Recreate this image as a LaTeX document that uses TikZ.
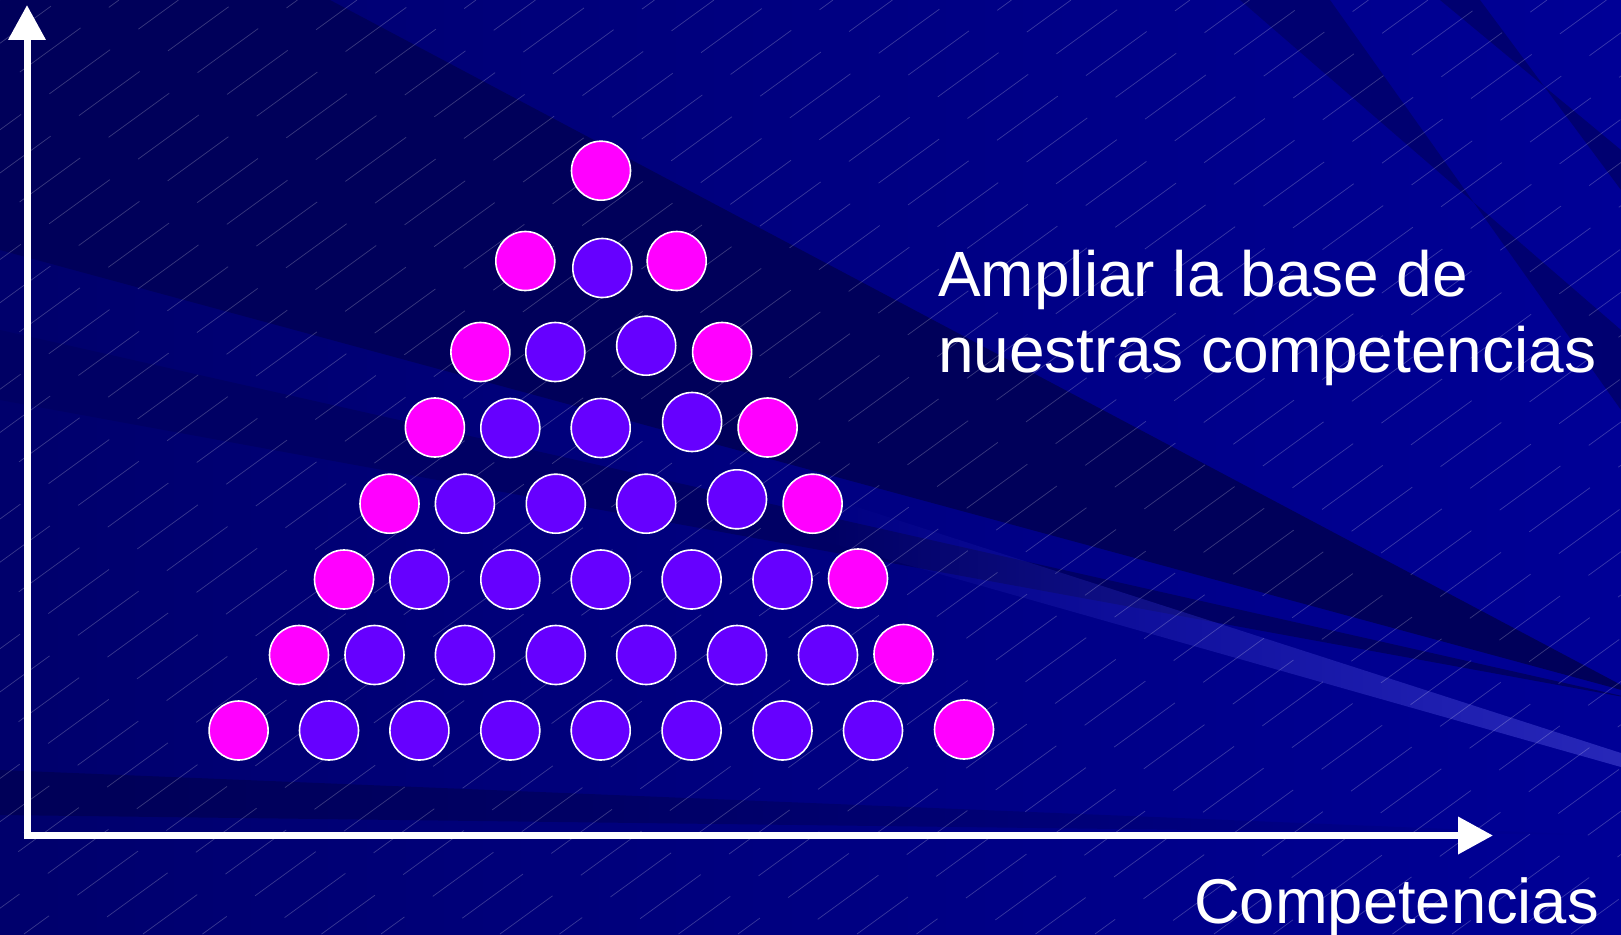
\documentclass[tikz,border=0pt]{standalone}
\usepackage{fontspec}
\setmainfont{Liberation Sans}
\usetikzlibrary{arrows.meta,fadings}
\definecolor{bgL}{RGB}{0,0,108}
\definecolor{bgR}{RGB}{0,0,150}
\definecolor{darkA}{RGB}{0,0,90}
\definecolor{darkB}{RGB}{0,0,100}
\definecolor{darkC}{RGB}{0,0,88}
\definecolor{bandR}{RGB}{0,0,112}
\definecolor{rayL}{RGB}{40,40,185}
\definecolor{pinkc}{RGB}{255,0,255}
\definecolor{violc}{RGB}{102,0,255}
\tikzset{
  ball/.style={circle, minimum size=59pt, inner sep=0pt, draw=white, line width=1.6pt},
  pk/.style={ball, fill=pinkc},
  vi/.style={ball, fill=violc},
  axisline/.style={draw=white, line width=7pt, -{Triangle[length=35pt,width=36pt]}},
  hatch/.style={white, opacity=0.22, line width=0.7pt, dash pattern=on 75pt off 35pt},
  lbl/.style={text=white, font=\fontsize{64}{76.5}\selectfont, inner sep=0pt}
}
\begin{document}
\begin{tikzpicture}[x=1pt,y=-1pt]
\useasboundingbox (0,0) rectangle (1621,934);
\begin{scope}
  \clip (0,0) rectangle (1621,934);
  \shade[left color=bgL, right color=bgR] (0,0) rectangle (1621,934);
  \fill[darkA] (0,0) -- (330,0) -- (1640,695) -- (0,250) -- cycle;
  \fill[darkB] (0,330) -- (1640,700) -- (0,400) -- cycle;
  \fill[bandR] (1240,0) -- (1330,0) -- (1621,410) -- (1621,330) -- cycle;
  \fill[bandR] (1440,0) -- (1480,0) -- (1621,190) -- (1621,150) -- cycle;
  \fill[rayL, path fading=west] (820,495) -- (1621,753) -- (1621,767) -- (820,540) -- cycle;
  \fill[darkC, path fading=east] (0,770) -- (1600,835) -- (0,815) -- cycle;
  \foreach \i in {0,...,50} {
    \draw[hatch, dash phase={mod(\i*37,110)}] ({-1285+\i*59.5},934) -- ({\i*59.5},0);
  }
\end{scope}

% axes
\coordinate (origin) at (27,835.5);
\coordinate (ytip) at (27,5);
\coordinate (xtip) at (1493,835.5);
\coordinate (ystart) at (27,839);
\coordinate (xstart) at (23.5,835.5);
\draw[axisline] (ystart) -- (ytip);
\draw[axisline] (xstart) -- (xtip);

% row 1
\node[pk] (a1) at (601,170.7) {};
% row 2
\node[pk] (b1) at (525.3,261) {};
\node[vi] (b2) at (602.3,268) {};
\node[pk] (b3) at (676.7,261) {};
% row 3
\node[pk] (c1) at (480.4,352) {};
\node[vi] (c2) at (555.3,352) {};
\node[vi] (c3) at (646.2,345.7) {};
\node[pk] (c4) at (722.1,352) {};
% row 4
\node[pk] (d1) at (434.9,427.5) {};
\node[vi] (d2) at (510.3,428) {};
\node[vi] (d3) at (600.7,428) {};
\node[vi] (d4) at (692.1,422) {};
\node[pk] (d5) at (767.6,427.5) {};
% row 5
\node[pk] (e1) at (389.5,503.7) {};
\node[vi] (e2) at (464.9,503.7) {};
\node[vi] (e3) at (555.8,503.7) {};
\node[vi] (e4) at (646.2,503.7) {};
\node[vi] (e5) at (737,499.3) {};
\node[pk] (e6) at (812.6,503.7) {};
% row 6
\node[pk] (f1) at (344,579.5) {};
\node[vi] (f2) at (419.4,579.5) {};
\node[vi] (f3) at (510.3,579.5) {};
\node[vi] (f4) at (600.7,579.5) {};
\node[vi] (f5) at (691.6,579.5) {};
\node[vi] (f6) at (782.5,579.5) {};
\node[pk] (f7) at (858,578.5) {};
% row 7
\node[pk] (g1) at (299,655) {};
\node[vi] (g2) at (374.5,655) {};
\node[vi] (g3) at (464.9,655) {};
\node[vi] (g4) at (555.8,655) {};
\node[vi] (g5) at (646.2,655) {};
\node[vi] (g6) at (737,655) {};
\node[vi] (g7) at (828,655) {};
\node[pk] (g8) at (903.5,654) {};
% row 8
\node[pk] (h1) at (238.6,730.5) {};
\node[vi] (h2) at (329,730.5) {};
\node[vi] (h3) at (419.4,730.5) {};
\node[vi] (h4) at (510.3,730.5) {};
\node[vi] (h5) at (600.7,730.5) {};
\node[vi] (h6) at (691.6,730.5) {};
\node[vi] (h7) at (782.5,730.5) {};
\node[vi] (h8) at (873,730.5) {};
\node[pk] (h9) at (964,729.5) {};

% texts
\node[lbl, anchor=base west] (t1) at (938,296) {Ampliar la base de};
\node[lbl, anchor=base west] (t2) at (938,372.7) {nuestras competencias};
\node[lbl, anchor=base west, font=\fontsize{63.3}{76}\selectfont] (t3) at (1194,923) {Competencias};
\end{tikzpicture}
\end{document}
